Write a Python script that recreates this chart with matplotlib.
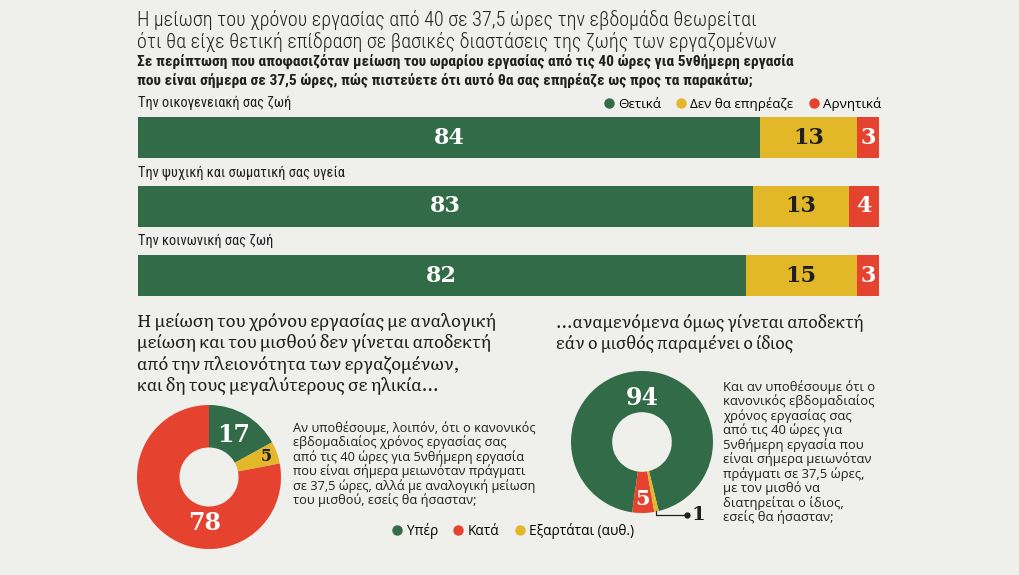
import matplotlib
matplotlib.use("Agg")
import matplotlib.pyplot as plt
from matplotlib import font_manager
from matplotlib.lines import Line2D
import numpy as np

# ---------------- data ----------------
bar_categories = ["Την οικογενειακή σας ζωή",
                  "Την ψυχική και σωματική σας υγεία",
                  "Την κοινωνική σας ζωή"]
bar_series = ["Θετικά", "Δεν θα επηρέαζε", "Αρνητικά"]
positive = [84, 83, 82]
no_effect = [13, 13, 15]
negative = [3, 4, 3]

donut1_labels = ["Υπέρ", "Εξαρτάται (αυθ.)", "Κατά"]
donut1_values = [17, 5, 78]
donut2_labels = ["Υπέρ", "Κατά", "Εξαρτάται (αυθ.)"]
donut2_values = [94, 5, 1]

title_lines = ["Η μείωση του χρόνου εργασίας από 40 σε 37,5 ώρες την εβδομάδα θεωρείται",
               "ότι θα είχε θετική επίδραση σε βασικές διαστάσεις της ζωής των εργαζομένων"]
subtitle_lines = ["Σε περίπτωση που αποφασιζόταν μείωση του ωραρίου εργασίας από τις 40 ώρες για 5νθήμερη εργασία",
                  "που είναι σήμερα σε 37,5 ώρες, πώς πιστεύετε ότι αυτό θα σας επηρέαζε ως προς τα παρακάτω;"]
left_heading = ["Η μείωση του χρόνου εργασίας με αναλογική",
                "μείωση και του μισθού δεν γίνεται αποδεκτή",
                "από την πλειονότητα των εργαζομένων,",
                "και δη τους μεγαλύτερους σε ηλικία..."]
left_question = ["Αν υποθέσουμε, λοιπόν, ότι ο κανονικός",
                 "εβδομαδιαίος χρόνος εργασίας σας",
                 "από τις 40 ώρες για 5νθήμερη εργασία",
                 "που είναι σήμερα μειωνόταν πράγματι",
                 "σε 37,5 ώρες, αλλά με αναλογική μείωση",
                 "του μισθού, εσείς θα ήσασταν;"]
right_heading = ["...αναμενόμενα όμως γίνεται αποδεκτή",
                 "εάν ο μισθός παραμένει ο ίδιος"]
right_question = ["Και αν υποθέσουμε ότι ο",
                  "κανονικός εβδομαδιαίος",
                  "χρόνος εργασίας σας",
                  "από τις 40 ώρες για",
                  "5νθήμερη εργασία που",
                  "είναι σήμερα μειωνόταν",
                  "πράγματι σε 37,5 ώρες,",
                  "με τον μισθό να",
                  "διατηρείται ο ίδιος,",
                  "εσείς θα ήσασταν;"]
legend2_labels = ["Υπέρ", "Κατά", "Εξαρτάται (αυθ.)"]

# ---------------- style ----------------
BG = "#efefeb"
GREEN = "#326b47"
YELLOW = "#e2b829"
RED = "#e5432f"
TXT = "#1f1f1f"

available = {f.name for f in font_manager.fontManager.ttflist}


def pick(*names):
    for n in names:
        if n in available:
            return n
    return "DejaVu Sans"


COND = pick("Roboto Condensed", "Fira Sans Condensed", "IBM Plex Sans Condensed")
SANS = pick("Open Sans", "Noto Sans")
SLAB = pick("Literata", "Noto Serif", "DejaVu Serif")
NUM = "DejaVu Serif"

W, H = 1020, 575
fig = plt.figure(figsize=(W / 100, H / 100), dpi=100, facecolor=BG)
renderer = fig.canvas.get_renderer()


def fx(px):
    return px / W


def fy(py):
    return 1 - py / H


def text_block(lines, x, y0, dy, width_px, family, weight="normal", size=10):
    """Draw lines; size chosen so that the first line spans width_px."""
    ts = []
    for i, line in enumerate(lines):
        ts.append(fig.text(fx(x), fy(y0 + dy * i), line, fontsize=size, family=[family, "DejaVu Sans"],
                           weight=weight, color=TXT, va="center", ha="left"))
    w = ts[0].get_window_extent(renderer).width
    s = size * width_px / w
    for t in ts:
        t.set_fontsize(s)
    return ts


# ---------------- header texts ----------------
text_block(title_lines, 137, 20, 22, 757 - 137, COND, "light", 15)
text_block(subtitle_lines, 137, 61, 19.5, 795 - 137, COND, "bold", 10.5)

# ---------------- stacked bars ----------------
bar_top, bar_bottom = 117, 296
bar_h_px, step_px = 41, 69
bh = bar_h_px / step_px
ax = fig.add_axes([fx(138), fy(bar_bottom), fx(879) - fx(138), (bar_bottom - bar_top) / H])
ax.set_facecolor("none")
y = np.arange(len(bar_categories))
series = [positive, no_effect, negative]
colors = [GREEN, YELLOW, RED]
txt_colors = ["white", TXT, "white"]
left = np.zeros(len(y))
for vals, c, tc in zip(series, colors, txt_colors):
    vals = np.array(vals, dtype=float)
    ax.barh(y, vals, left=left, height=bh, color=c, edgecolor="none")
    for yi, l, v in zip(y, left, vals):
        ax.text(l + v / 2, yi, f"{int(v)}", ha="center", va="center",
                color=tc, fontsize=16, family=NUM, weight="bold")
    left += vals
ax.set_xlim(0, 100)
ax.set_ylim(len(y) - 1 + bh / 2, -bh / 2)
ax.axis("off")
cat_texts = []
for yi, cat in zip(y, bar_categories):
    cat_texts.append(ax.text(0, yi - bh / 2 - 0.2, cat, ha="left", va="center", fontsize=10.5,
                             family=COND, color=TXT))
cw = cat_texts[0].get_window_extent(renderer).width
for t in cat_texts:
    t.set_fontsize(10.5 * (291 - 137) / cw)

handles = [Line2D([], [], marker="o", linestyle="", color=c, markersize=6.5) for c in colors]
fig.legend(handles, bar_series, loc="center right", bbox_to_anchor=(fx(881), fy(104)),
           ncol=3, frameon=False, handletextpad=0.1, columnspacing=0.9, handlelength=1.2,
           prop={"family": SANS, "size": 9.6}, borderpad=0, borderaxespad=0)

# ---------------- lower headings & questions ----------------
text_block(left_heading, 137, 322, 21.3, 497 - 137, SLAB, "light", 12.3)
text_block(right_heading, 556, 323, 21.3, 862 - 556, SLAB, "light", 12.3)
text_block(left_question, 293, 428, 14.4, 535 - 293, SANS, "normal", 8.8)
text_block(right_question, 723, 387, 14.5, 875 - 723, SANS, "normal", 8.8)

# ---------------- donut 1 ----------------
c1x, c1y, r1 = 209, 477, 72
ax1 = fig.add_axes([fx(c1x - r1), fy(c1y + r1), 2 * r1 / W, 2 * r1 / H])
ax1.set_facecolor("none")
col1 = {"Υπέρ": GREEN, "Κατά": RED, "Εξαρτάται (αυθ.)": YELLOW}
w1, _ = ax1.pie(donut1_values, colors=[col1[l] for l in donut1_labels], startangle=90,
                counterclock=False, radius=1, wedgeprops=dict(width=0.59, edgecolor="none"))
ax1.set_xlim(-1, 1)
ax1.set_ylim(-1, 1)
ax1.set_aspect("equal")
ax1.axis("off")
lab_pos1 = [(0.68, None), (0.85, None), (0.64, -95)]
lab_col1 = ["white", TXT, "white"]
lab_size1 = [17, 11.5, 17]
for wdg, v, (rr, ang), tc, fs in zip(w1, donut1_values, lab_pos1, lab_col1, lab_size1):
    a = np.deg2rad((wdg.theta1 + wdg.theta2) / 2 if ang is None else ang)
    ax1.text(rr * np.cos(a), rr * np.sin(a), str(v), ha="center", va="center",
             color=tc, fontsize=fs, family=NUM, weight="bold")

# ---------------- donut 2 ----------------
c2x, c2y, r2 = 642, 442, 71
ax2 = fig.add_axes([fx(c2x - r2), fy(c2y + r2), 2 * r2 / W, 2 * r2 / H])
ax2.set_facecolor("none")
w2, _ = ax2.pie(donut2_values, colors=[col1[l] for l in donut2_labels], startangle=-76.4,
                counterclock=True, radius=1, wedgeprops=dict(width=0.58, edgecolor="none"))
ax2.set_xlim(-1, 1)
ax2.set_ylim(-1, 1)
ax2.set_aspect("equal")
ax2.axis("off")
ax2.text(0, 0.62, str(donut2_values[0]), ha="center", va="center", color="white",
         fontsize=17, family=NUM, weight="bold")
a = np.deg2rad((w2[1].theta1 + w2[1].theta2) / 2)
ax2.text(0.8 * np.cos(a), 0.8 * np.sin(a), str(donut2_values[1]), ha="center",
         va="center", color="white", fontsize=15, family=NUM, weight="bold")
a = np.deg2rad((w2[2].theta1 + w2[2].theta2) / 2)
sx, sy = 0.99 * np.cos(a), 0.99 * np.sin(a)
ax2.plot([sx, sx, 0.64], [sy, -1.03, -1.03], color=TXT, lw=0.9, clip_on=False)
ax2.plot([0.64], [-1.03], marker="o", color=TXT, markersize=3.5, clip_on=False)
ax2.text(0.70, -1.03, str(donut2_values[2]), ha="left", va="center", color=TXT,
         fontsize=14, family=NUM, weight="bold", clip_on=False)

# ---------------- legend 2 ----------------
handles2 = [Line2D([], [], marker="o", linestyle="", color=col1[l], markersize=6.5)
            for l in legend2_labels]
fig.legend(handles2, legend2_labels, loc="center left", bbox_to_anchor=(fx(389), fy(531)),
           ncol=3, frameon=False, handletextpad=0.1, columnspacing=0.9, handlelength=1.2,
           prop={"family": SANS, "size": 9.8}, borderpad=0, borderaxespad=0)

fig.savefig("out.png", dpi=100, facecolor=BG)
